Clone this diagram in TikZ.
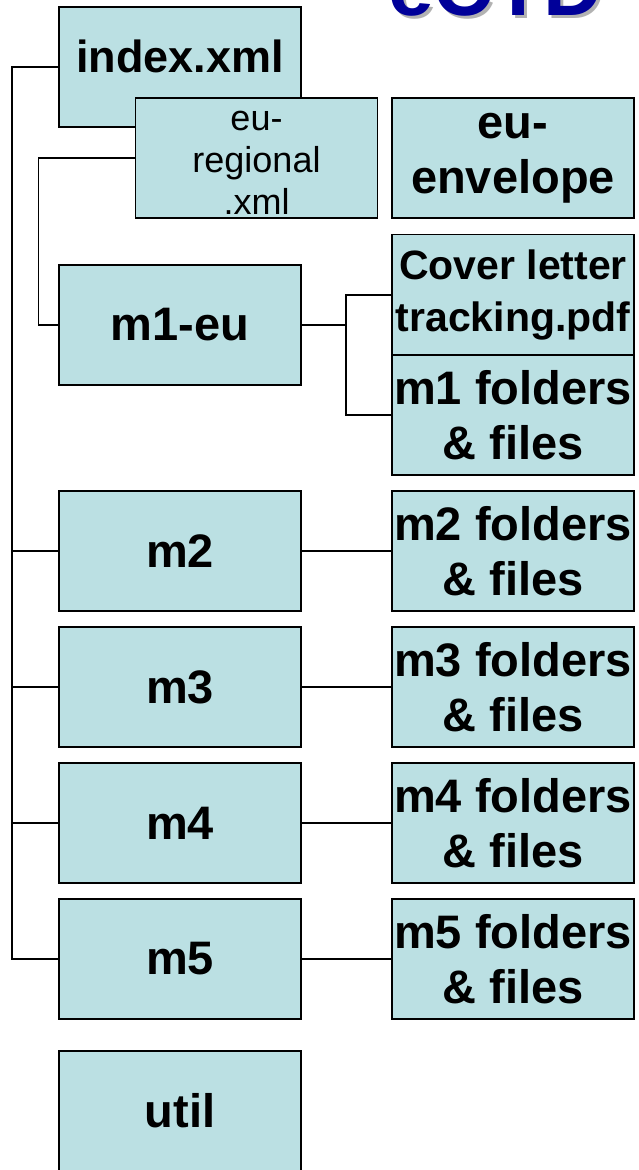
\documentclass[tikz,border=0pt]{standalone}
\usepackage{fontspec}
\setmainfont{Liberation Sans}
\definecolor{boxfill}{RGB}{187,224,227}
\definecolor{titleblue}{RGB}{0,0,153}
\tikzset{
  filebox/.style={draw=black, line width=1.8pt, fill=boxfill, minimum width=242pt, minimum height=120pt, inner sep=0pt, align=center, font=\bfseries\fontsize{47}{55}\selectfont},
  small/.style={inner sep=0pt, align=center, font=\fontsize{36}{42}\selectfont},
  cover/.style={font=\bfseries\fontsize{41}{52}\selectfont},
  link/.style={draw=black, line width=1.5pt}
}
\begin{document}
\begin{tikzpicture}[x=1pt,y=-1pt]
\useasboundingbox (0,0) rectangle (639,1170);
\clip (0,0) rectangle (639,1170);
% title
\node[anchor=base west, inner sep=0pt, text=black!30, font=\bfseries\fontsize{82}{82}\selectfont] (titleshadow) at (391,18) {eCTD};
\node[anchor=base west, inner sep=0pt, text=titleblue, font=\bfseries\fontsize{82}{82}\selectfont] (title) at (388,15) {eCTD};
% boxes
\node[filebox, text depth=22pt, font=\bfseries\fontsize{45}{55}\selectfont] (idx) at (180,67) {index.xml};
\node[filebox] (reg) at (256.5,158) {};
\node[small] (regtext) at (256.5,163) {eu-\\regional\\.xml};
\node[filebox] (env) at (513,158) {eu-\\envelope};
\node[filebox] (m1) at (180,325) {m1-eu};
\node[filebox, cover, minimum height=121pt] (cov) at (513,295) {Cover letter\\tracking.pdf};
\node[filebox] (m1f) at (513,415) {m1 folders\\\& files};
\node[filebox] (m2) at (180,551) {m2};
\node[filebox] (m2f) at (513,551) {m2 folders\\\& files};
\node[filebox] (m3) at (180,687) {m3};
\node[filebox] (m3f) at (513,687) {m3 folders\\\& files};
\node[filebox] (m4) at (180,823) {m4};
\node[filebox] (m4f) at (513,823) {m4 folders\\\& files};
\node[filebox] (m5) at (180,959) {m5};
\node[filebox] (m5f) at (513,959) {m5 folders\\\& files};
\node[filebox] (util) at (180,1111) {util};
% connectors
\coordinate (trunk) at (12,0);
\coordinate (j) at (346,325);
\draw[link] (idx.west) -- (idx.west -| trunk) |- (m5.west);
\draw[link] (m2.west) -- (m2.west -| trunk);
\draw[link] (m3.west) -- (m3.west -| trunk);
\draw[link] (m4.west) -- (m4.west -| trunk);
\draw[link] (reg.west) -- ++(-96,0) |- (m1.west);
\draw[link] (m1.east) -- (j);
\draw[link] (cov.west) -| (j);
\draw[link] (m1f.west) -| (j);
\draw[link] (m2.east) -- (m2f.west);
\draw[link] (m3.east) -- (m3f.west);
\draw[link] (m4.east) -- (m4f.west);
\draw[link] (m5.east) -- (m5f.west);
\end{tikzpicture}
\end{document}
